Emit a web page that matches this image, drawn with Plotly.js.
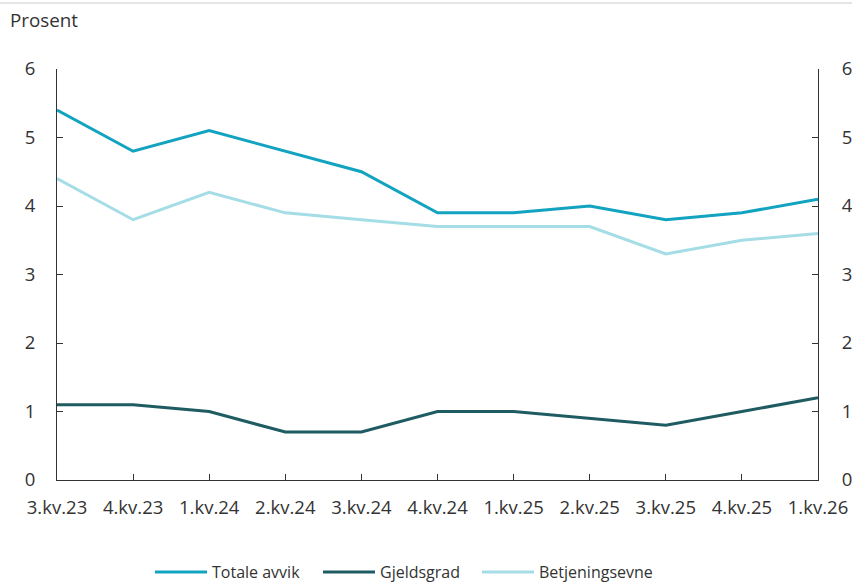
<!DOCTYPE html>
<html>
<head>
<meta charset="utf-8">
<script src="https://cdn.plot.ly/plotly-3.0.1.min.js"></script>
<style>html,body{margin:0;padding:0;background:#fff;}#chart{width:852px;height:585px;}</style>
</head>
<body>
<div id="chart"></div>
<script>
const categories = ["3.kv.23","4.kv.23","1.kv.24","2.kv.24","3.kv.24","4.kv.24","1.kv.25","2.kv.25","3.kv.25","4.kv.25","1.kv.26"];
const totaleAvvik = [5.4, 4.8, 5.1, 4.8, 4.5, 3.9, 3.9, 4.0, 3.8, 3.9, 4.1];
const gjeldsgrad = [1.1, 1.1, 1.0, 0.7, 0.7, 1.0, 1.0, 0.9, 0.8, 1.0, 1.2];
const betjeningsevne = [4.4, 3.8, 4.2, 3.9, 3.8, 3.7, 3.7, 3.7, 3.3, 3.5, 3.6];
const yTicks = [0, 1, 2, 3, 4, 5, 6];

const tickFont = {family: "Open Sans, sans-serif", size: 18.5, color: "#333333"};
const legendFont = {family: "Open Sans, sans-serif", size: 16, color: "#333333"};

const traces = [
  {x: categories, y: totaleAvvik, name: "Totale avvik", legend: "legend", type: "scatter", mode: "lines",
   line: {color: "#12a3c0", width: 3}},
  {x: categories, y: gjeldsgrad, name: "Gjeldsgrad", legend: "legend2", type: "scatter", mode: "lines",
   line: {color: "#1f5c62", width: 3}},
  {x: categories, y: betjeningsevne, name: "Betjeningsevne", legend: "legend3", type: "scatter", mode: "lines",
   line: {color: "#a5dde6", width: 3}},
  {x: categories, y: totaleAvvik, yaxis: "y2", type: "scatter", mode: "lines",
   line: {color: "rgba(0,0,0,0)", width: 0}, showlegend: false, hoverinfo: "skip"}
];

const plotW = 852 - 57 - 34, plotH = 585 - 69 - 105;

function legendAt(px) {
  return {orientation: "h", x: px / 852, xanchor: "left", xref: "container",
          y: (585 - 572) / 585, yanchor: "middle", yref: "container",
          font: legendFont, itemwidth: 52, bgcolor: "rgba(0,0,0,0)"};
}

const layout = {
  width: 852, height: 585,
  margin: {l: 57, r: 34, t: 69, b: 105, autoexpand: false},
  paper_bgcolor: "#ffffff", plot_bgcolor: "#ffffff",
  font: tickFont,
  showlegend: true,
  legend: legendAt(150),
  legend2: legendAt(318),
  legend3: legendAt(477),
  xaxis: {type: "category", range: [0, categories.length - 1], autorange: false,
          showgrid: false, zeroline: false, showline: true, linecolor: "#333333", linewidth: 1,
          ticks: "inside", ticklen: 6, tickcolor: "#333333", tickfont: tickFont,
          ticklabelstandoff: 11, fixedrange: true},
  yaxis: {range: [0, 6], autorange: false, tickvals: yTicks, showgrid: false, zeroline: false,
          showline: true, linecolor: "#333333", linewidth: 1, ticks: "inside", ticklen: 6,
          tickcolor: "#333333", tickfont: tickFont, ticklabelstandoff: 17, fixedrange: true},
  yaxis2: {range: [0, 6], autorange: false, tickvals: yTicks, overlaying: "y", side: "right",
           showgrid: false, zeroline: false, showline: true, linecolor: "#333333", linewidth: 1,
           ticks: "inside", ticklen: 6, tickcolor: "#333333", tickfont: tickFont,
           ticklabelstandoff: 19, fixedrange: true},
  annotations: [
    {text: "Prosent", xref: "paper", yref: "paper", x: -49 / plotW, y: (480 - 20) / plotH,
     xanchor: "left", yanchor: "middle", showarrow: false,
     font: {family: "Open Sans, sans-serif", size: 18.8, color: "#333333"}}
  ],
  shapes: [
    {type: "line", xref: "paper", yref: "paper", x0: -57 / plotW, x1: 1 + 34 / plotW,
     y0: (480 - 3) / plotH, y1: (480 - 3) / plotH, line: {color: "#cccccc", width: 1}}
  ]
};

Plotly.newPlot("chart", traces, layout, {displayModeBar: false, staticPlot: true});
</script>
</body>
</html>
